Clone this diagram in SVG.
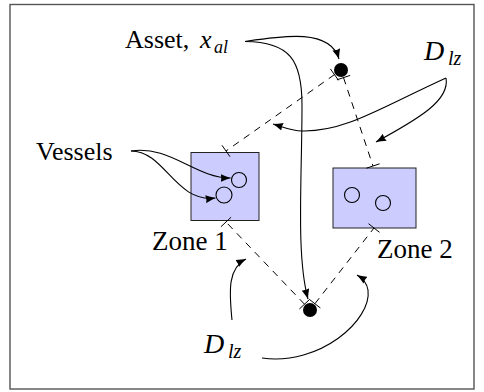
<svg xmlns="http://www.w3.org/2000/svg" width="484" height="392" viewBox="0 0 484 392">
<style>
.t{font-family:"Liberation Serif","DejaVu Serif",serif;font-size:26px;fill:#000}
.i{font-style:italic}
.z{font-size:27px}
.big{font-size:28px}
.sub{font-size:20px}
.sub2{font-size:18px}
.dash{fill:none;stroke:#000;stroke-width:1;stroke-dasharray:7 6}
.tick{stroke:#000;stroke-width:1}
.arr{fill:none;stroke:#000;stroke-width:1.1;marker-end:url(#ah)}
.zone{fill:#ccccff;stroke:#222;stroke-width:1}
.ves{fill:none;stroke:#000;stroke-width:1.1}
</style>
<defs>
<marker id="ah" viewBox="0 0 10 8" refX="10" refY="4" markerWidth="10" markerHeight="8" markerUnits="userSpaceOnUse" orient="auto">
<path d="M10,4 Q5,2.4 0,0 Q1.5,4 0,8 Q5,5.6 10,4 z" fill="#000"/>
</marker>
</defs>
<rect x="10" y="4.5" width="464" height="384.5" fill="#fff" stroke="#555" stroke-width="1.4"/>

<g id="zone1">
<rect class="zone" x="191" y="152.5" width="68" height="68"/>
<circle class="ves" cx="239" cy="180" r="7.5"/>
<circle class="ves" cx="224" cy="195" r="8"/>
<text class="t z" x="152" y="250">Zone 1</text>
</g>
<g id="zone2">
<rect class="zone" x="333" y="168" width="83" height="60"/>
<circle class="ves" cx="352" cy="195" r="7.5"/>
<circle class="ves" cx="383" cy="203" r="7.5"/>
<text class="t z" x="377" y="258">Zone 2</text>
</g>

<g id="connectors">
<path class="dash" d="M334.5,74.6 L226,151"/>
<path class="dash" d="M343.5,77.6 L373,166"/>
<path class="dash" d="M304.5,304.2 L226,222"/>
<path class="dash" d="M314.9,303.7 L374,228"/>
<path class="tick" d="M330.4,68.9 L338.5,80.3 M336.9,79.8 L350.2,75.4 M222,145.3 L230,156.7 M366.4,168.2 L379.6,163.8 M299.4,309 L309.6,299.4 M220.9,226.8 L231.1,217.2 M309.4,299.4 L320.4,308 M368.5,223.7 L379.5,232.3"/>
<path class="arr" d="M245,41.5 C282,36 330,28 339,59"/>
<path class="arr" d="M245,41.5 C290,42 302,60 302,105 C302,180 296,255 308,299"/>
<path class="arr" d="M446,78 C380,108 345,132 302,131 C292,131 283,127 273,124"/>
<path class="arr" d="M446,78 C450,100 420,118 376,142"/>
<path class="arr" d="M232,320 C229,290 228,268 246,259"/>
<path class="arr" d="M262,358 C320,366 372,320 368,290 C367,283 362,278 357,275"/>
<path class="arr" d="M131,151 C170,145 195,178 230.5,178"/>
<path class="arr" d="M131,151 C165,151 175,203 215.5,198"/>
</g>

<g id="asset-top">
<circle cx="341" cy="70" r="7" fill="#000"/>
</g>
<g id="asset-bottom">
<circle cx="310" cy="310" r="7" fill="#000"/>
</g>

<g id="labels">
<text class="t" x="36" y="160">Vessels</text>
<text class="t" x="125" y="48">Asset,<tspan class="i" x="200">x</tspan><tspan class="i sub2" x="214" y="53">al</tspan></text>
<text class="t i big" x="424" y="60">D<tspan class="sub" x="448" y="65">lz</tspan></text>
<text class="t i big" x="204" y="353">D<tspan class="sub" x="228" y="358">lz</tspan></text>
</g>
</svg>
